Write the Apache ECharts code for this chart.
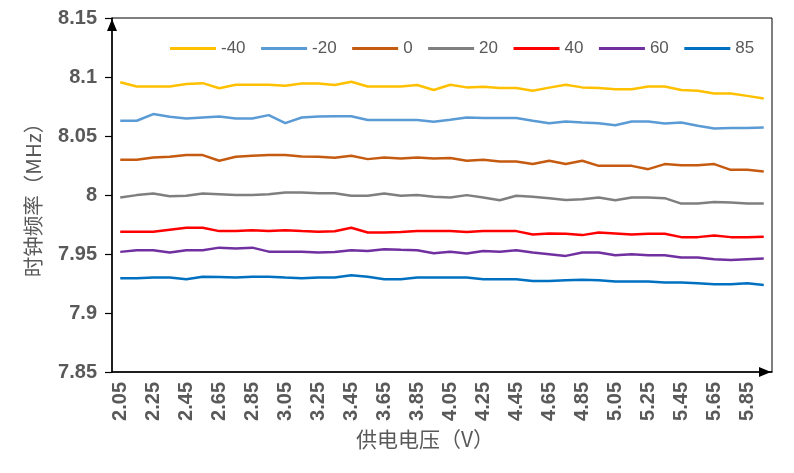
<!DOCTYPE html>
<html><head><meta charset="utf-8">
<script src="https://cdn.jsdelivr.net/npm/echarts@6/dist/echarts.min.js"></script>
<style>html,body{margin:0;padding:0;background:#fff}#c{width:794px;height:473px}</style>
</head><body><div id="c"></div>
<script>
const categories = ['2.05','2.15','2.25','2.35','2.45','2.55','2.65','2.75','2.85','2.95',
  '3.05','3.15','3.25','3.35','3.45','3.55','3.65','3.75','3.85','3.95',
  '4.05','4.15','4.25','4.35','4.45','4.55','4.65','4.75','4.85','4.95',
  '5.05','5.15','5.25','5.35','5.45','5.55','5.65','5.75','5.85','5.95'];
const seriesNames = ['-40','-20','0','20','40','60','85'];
const colors = ['#FFC000','#5B9BD5','#C55A11','#7F7F7F','#FF0000','#7030A0','#0070C0'];
const s_m40 = [8.0955,8.092,8.092,8.092,8.094,8.0948,8.0905,8.0934,8.0934,8.0934,8.0926,8.0945,8.0945,8.0932,8.096,8.092,8.092,8.092,8.0932,8.089,8.0934,8.0912,8.0917,8.0906,8.0906,8.0883,8.091,8.0934,8.0912,8.0906,8.0897,8.0897,8.092,8.092,8.089,8.0883,8.086,8.086,8.084,8.0817];
const s_m20 = [8.0629,8.0629,8.0686,8.0663,8.0649,8.0657,8.0665,8.0649,8.0649,8.0677,8.0609,8.0657,8.0665,8.0668,8.0668,8.0635,8.0635,8.0635,8.0635,8.0621,8.0638,8.0657,8.0652,8.0652,8.0652,8.0629,8.0609,8.0623,8.0614,8.0609,8.0591,8.0623,8.0623,8.0606,8.0614,8.0587,8.0564,8.0567,8.0567,8.0572];
const s_0 = [8.0298,8.0298,8.0318,8.0324,8.0338,8.0338,8.0290,8.0324,8.0332,8.0338,8.0338,8.0326,8.0324,8.0316,8.0332,8.0304,8.0318,8.0309,8.0318,8.0309,8.0313,8.0290,8.0298,8.0284,8.0284,8.0262,8.0290,8.0262,8.0290,8.0247,8.0247,8.0247,8.0219,8.0262,8.0253,8.0253,8.0262,8.0213,8.0213,8.0199];
const s_20 = [7.9979,7.9999,8.0012,7.9990,7.9993,8.0012,8.0007,8.0001,8.0001,8.0007,8.0021,8.0021,8.0015,8.0014,7.9993,7.9993,8.0012,7.9993,7.9999,7.9985,7.9979,7.9999,7.9979,7.9956,7.9993,7.9985,7.9973,7.9958,7.9964,7.9979,7.9956,7.9979,7.9979,7.9973,7.9927,7.9927,7.9941,7.9936,7.9927,7.9927];
const s_40 = [7.9688,7.9688,7.9688,7.9705,7.9722,7.9722,7.9694,7.9694,7.9702,7.9694,7.9702,7.9694,7.9688,7.9693,7.9722,7.9682,7.9682,7.9686,7.9694,7.9694,7.9694,7.9686,7.9694,7.9694,7.9694,7.9666,7.9674,7.9671,7.9660,7.9682,7.9674,7.9666,7.9671,7.9671,7.9643,7.9643,7.9657,7.9643,7.9643,7.9646];
const s_60 = [7.9518,7.9532,7.9532,7.9512,7.9532,7.9532,7.9554,7.9546,7.9554,7.9520,7.9520,7.9520,7.9512,7.9516,7.9532,7.9526,7.9541,7.9535,7.9532,7.9507,7.9520,7.9504,7.9526,7.9520,7.9532,7.9512,7.9498,7.9484,7.9512,7.9512,7.9490,7.9498,7.9490,7.9490,7.9470,7.9470,7.9456,7.9450,7.9456,7.9461];
const s_85 = [7.9295,7.9295,7.9300,7.9300,7.9286,7.9308,7.9306,7.9300,7.9308,7.9308,7.9300,7.9295,7.9300,7.9301,7.9320,7.9308,7.9286,7.9286,7.9300,7.9300,7.9300,7.9300,7.9286,7.9286,7.9286,7.9272,7.9272,7.9278,7.9281,7.9278,7.9266,7.9266,7.9266,7.9258,7.9258,7.9252,7.9244,7.9244,7.9252,7.9238];
const allSeries = [s_m40, s_m20, s_0, s_20, s_40, s_60, s_85];

const chart = echarts.init(document.getElementById('c'), null, {renderer: 'canvas'});
const labelColor = '#595959';
chart.setOption({
  animation: false,
  backgroundColor: '#fff',
  grid: {left: 112, right: 22, top: 18, bottom: 101, show: true, borderColor: '#000', borderWidth: 1, outerBoundsMode: 'none'},
  legend: {
    data: seriesNames, left: 165, top: 35, icon: 'rect', itemWidth: 46, itemHeight: 3, itemGap: 15.5,
    textStyle: {color: labelColor, fontSize: 17, fontFamily: 'Liberation Sans, Arial, sans-serif'}
  },
  xAxis: {
    type: 'category', data: categories, boundaryGap: true,
    name: '供电电压（V）', nameLocation: 'middle', nameGap: 57, nameMoveOverlap: false,
    nameTextStyle: {color: labelColor, fontSize: 21, fontFamily: 'Noto Sans CJK SC', padding: [0, 34, 0, 0]},
    axisLine: {lineStyle: {color: '#000', width: 1.5}, symbol: ['none', 'triangle'], symbolSize: [10, 12], symbolOffset: [0, -7]},
    axisTick: {inside: true, length: 8, interval: 0, lineStyle: {color: '#000', width: 1.2}},
    axisLabel: {interval: 1, rotate: 90, margin: 10, color: labelColor, fontSize: 20, fontWeight: 'bold', fontFamily: 'Liberation Sans, Arial, sans-serif'},
    splitLine: {show: false}
  },
  yAxis: {
    type: 'value', min: 7.85, max: 8.15, interval: 0.05,
    name: '时钟频率（MHz）', nameLocation: 'middle', nameGap: 69, nameRotate: 90, nameMoveOverlap: false,
    nameTextStyle: {color: labelColor, fontSize: 20.5, fontFamily: 'Noto Sans CJK SC'},
    axisLine: {show: true, lineStyle: {color: '#000', width: 1.5}, symbol: ['none', 'triangle'], symbolSize: [10, 12], symbolOffset: [0, -7]},
    axisTick: {show: true, inside: false, length: 7, lineStyle: {color: '#000', width: 1.2}},
    axisLabel: {margin: 15, color: labelColor, fontSize: 20, fontWeight: 'bold', fontFamily: 'Liberation Sans, Arial, sans-serif'},
    splitLine: {show: false}
  },
  series: seriesNames.map((n, k) => ({
    name: n, type: 'line', data: allSeries[k], showSymbol: false, symbol: 'none',
    lineStyle: {width: 2.5, color: colors[k]}, itemStyle: {color: colors[k]}
  }))
});
</script></body></html>
